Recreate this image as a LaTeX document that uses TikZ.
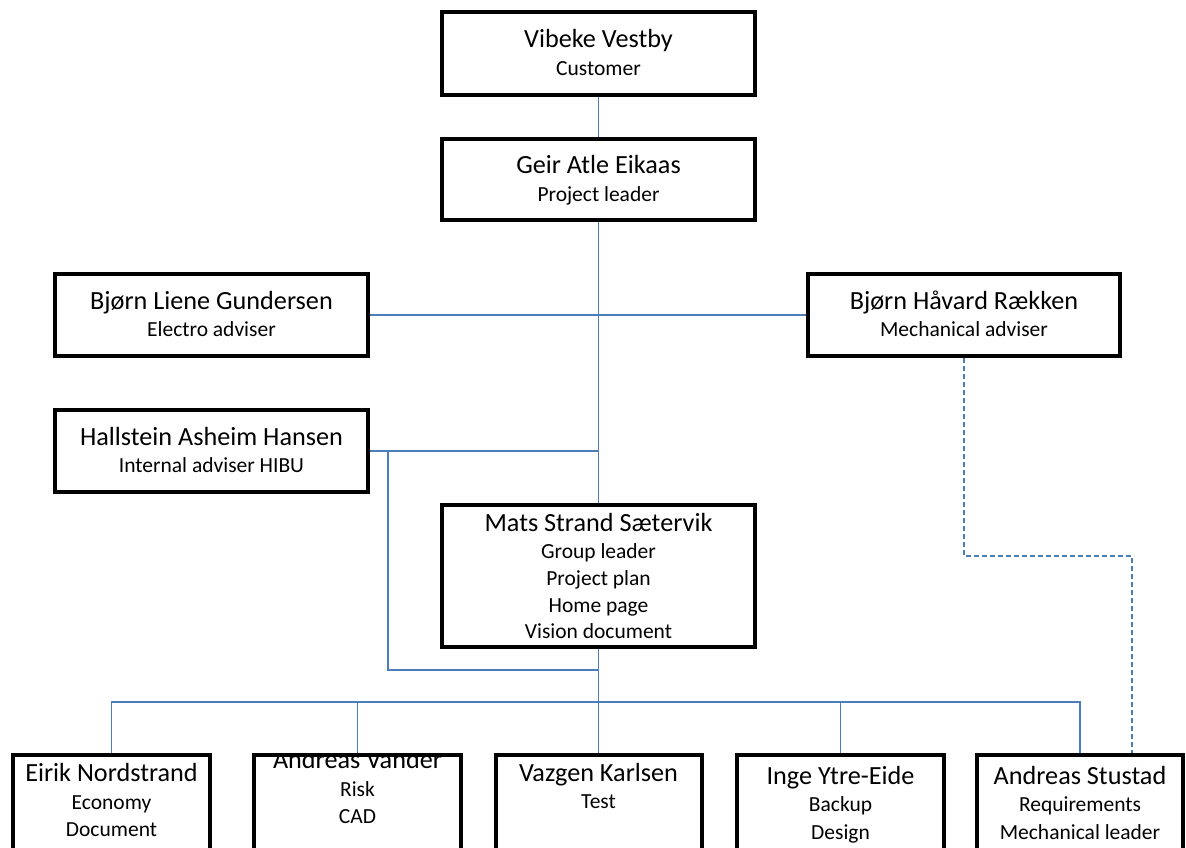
\documentclass[tikz,border=0pt]{standalone}
\usepackage{fontspec}
\setmainfont{Carlito}
\definecolor{linkblue}{HTML}{4A7EBB}
\pgfdeclarelayer{bg}
\pgfsetlayers{bg,main}
\begin{document}
\begin{tikzpicture}[x=1pt,y=-1pt,
  box/.style={draw=black, line width=4pt, rectangle, inner sep=0pt},
  wide/.style={box, minimum width=313pt},
  low/.style={box, minimum height=125pt},
  pname/.style={anchor=base, inner sep=0pt, font=\fontsize{26.2}{31}\selectfont},
  prole/.style={anchor=base, inner sep=0pt, font=\fontsize{21.5}{26}\selectfont},
  link/.style={draw=linkblue, line width=1.5pt},
  dlink/.style={link, dash pattern=on 5pt off 3pt}]
\begin{pgfonlayer}{bg}
  \fill[white] (0,0) rectangle (1186,848);
\end{pgfonlayer}
\clip (0,0) rectangle (1186,848);

% upper boxes
\node[wide, minimum height=83pt] (vib)  at (598.5,53.5) {};
\node[wide, minimum height=81pt] (geir) at (598.5,179.5) {};
\node[wide, minimum height=82pt] (bl)   at (211.5,315) {};
\node[box, minimum width=312pt, minimum height=82pt] (bh) at (964,315) {};
\node[wide, minimum height=82pt] (hal)  at (211.5,451) {};
\node[wide, minimum height=142pt] (mats) at (598.5,576) {};

% lower row (runs past the bottom edge)
\node[low, minimum width=197pt] (eirik)   at (111.5,817.5) {};
\node[low, minimum width=207pt] (vander)  at (357.5,817.5) {};
\node[low, minimum width=206pt] (vazgen)  at (598.5,817.5) {};
\node[low, minimum width=207pt] (inge)    at (840.5,817.5) {};
\node[low, minimum width=206pt] (stustad) at (1080,817.5) {};

% texts
\node[pname] (t1a) at (598.5,48) {Vibeke Vestby};
\node[prole] (t1b) at (598.5,76) {Customer};
\node[pname] (t2a) at (598.5,173) {Geir Atle Eikaas};
\node[prole] (t2b) at (598.5,201) {Project leader};
\node[pname] (t3a) at (211.5,309) {Bjørn Liene Gundersen};
\node[prole] (t3b) at (211.5,336) {Electro adviser};
\node[pname] (t4a) at (964,309) {Bjørn Håvard Rækken};
\node[prole] (t4b) at (964,336) {Mechanical adviser};
\node[pname] (t5a) at (211.5,445) {Hallstein Asheim Hansen};
\node[prole] (t5b) at (211.5,472) {Internal adviser HIBU};
\node[pname] (t6a) at (598.5,531) {Mats Strand Sætervik};
\node[prole] (t6b) at (598.5,558) {Group leader};
\node[prole] (t6c) at (598.5,585) {Project plan};
\node[prole] (t6d) at (598.5,612) {Home page};
\node[prole] (t6e) at (598.5,638) {Vision document};
\node[pname] (t7a) at (111.5,781) {Eirik Nordstrand};
\node[prole] (t7b) at (111.5,809) {Economy};
\node[prole] (t7c) at (111.5,836) {Document};
\begin{scope}
  \clip (256,757) rectangle (459,848);
  \node[pname] (t8a) at (357.5,768) {Andreas Vander};
\end{scope}
\node[prole] (t8b) at (357.5,796) {Risk};
\node[prole] (t8c) at (357.5,823) {CAD};
\node[pname] (t9a) at (598.5,781) {Vazgen Karlsen};
\node[prole] (t9b) at (598.5,808) {Test};
\node[pname] (t10a) at (840.5,784) {Inge Ytre-Eide};
\node[prole] (t10b) at (840.5,811) {Backup};
\node[prole] (t10c) at (840.5,839) {Design};
\node[pname] (t11a) at (1080,784) {Andreas Stustad};
\node[prole] (t11b) at (1080,811) {Requirements};
\node[prole] (t11c) at (1080,839) {Mechanical leader};

% connectors, kept under the box borders
\coordinate (hb) at (388,451);
\coordinate (hc) at (598.5,670);
\coordinate (bus) at (598.5,702);
\coordinate (d1) at (964,556);
\coordinate (d2) at (1132,556);
\begin{pgfonlayer}{bg}
  \draw[link] (vib.south) -- (geir.north);
  \draw[link] (geir.south) -- (mats.north);
  \draw[link] (bl.east) -- (bh.west);
  \draw[link] (hal.east) -- (hal.east -| mats.north);
  \draw[link] (hb) |- (hc);
  \draw[link] (mats.south) -- (vazgen.north);
  \draw[link] (eirik.north) -- (eirik.north |- bus) -- (stustad.north |- bus) -- (stustad.north);
  \draw[link] (vander.north) -- (vander.north |- bus);
  \draw[link] (inge.north) -- (inge.north |- bus);
  \draw[dlink] (bh.south) -- (d1) -- (d2) -- (d2 |- stustad.north);
\end{pgfonlayer}
\end{tikzpicture}
\end{document}
